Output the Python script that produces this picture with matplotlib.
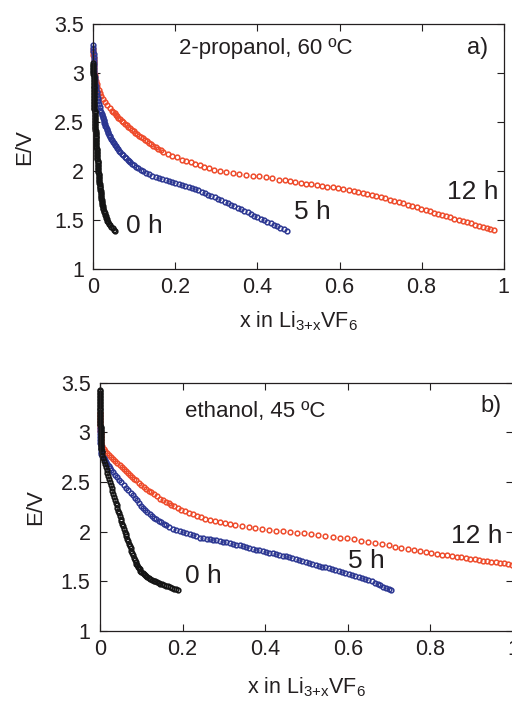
import matplotlib
matplotlib.use('Agg')
import matplotlib.pyplot as plt

plt.rcParams['font.family'] = ['Liberation Sans', 'DejaVu Sans']
plt.rcParams['mathtext.default'] = 'regular'

# (a) 2-propanol, 60 ºC : discharge curves E vs x
x_a_0h = [0.0000, 0.0001, 0.0002, 0.0002, 0.0003, 0.0004, 0.0005, 0.0005, 0.0006, 0.0007,
          0.0008, 0.0008, 0.0009, 0.0010, 0.0011, 0.0011, 0.0012, 0.0013, 0.0014, 0.0014,
          0.0015, 0.0016, 0.0017, 0.0017, 0.0018, 0.0019, 0.0020, 0.0021, 0.0022, 0.0024,
          0.0026, 0.0028, 0.0030, 0.0031, 0.0033, 0.0035, 0.0037, 0.0038, 0.0040, 0.0042,
          0.0044, 0.0045, 0.0047, 0.0049, 0.0051, 0.0053, 0.0055, 0.0056, 0.0058, 0.0060,
          0.0062, 0.0063, 0.0065, 0.0067, 0.0069, 0.0071, 0.0074, 0.0077, 0.0080, 0.0083,
          0.0086, 0.0088, 0.0091, 0.0094, 0.0097, 0.0100, 0.0103, 0.0106, 0.0109, 0.0112,
          0.0115, 0.0118, 0.0121, 0.0123, 0.0126, 0.0129, 0.0132, 0.0135, 0.0138, 0.0142,
          0.0146, 0.0150, 0.0155, 0.0160, 0.0164, 0.0168, 0.0173, 0.0177, 0.0181, 0.0186,
          0.0190, 0.0195, 0.0199, 0.0204, 0.0208, 0.0213, 0.0217, 0.0226, 0.0235, 0.0246,
          0.0258, 0.0270, 0.0281, 0.0293, 0.0304, 0.0316, 0.0327, 0.0339, 0.0350,
          0.0380, 0.0410, 0.0440, 0.0470, 0.0500, 0.0530]
e_a_0h = [3.10, 3.085, 3.07, 3.055, 3.04, 3.025, 3.01, 2.995, 2.98, 2.965,
          2.95, 2.935, 2.92, 2.905, 2.89, 2.875, 2.86, 2.845, 2.83, 2.815,
          2.80, 2.785, 2.77, 2.755, 2.74, 2.725, 2.71, 2.695, 2.68, 2.665,
          2.65, 2.635, 2.62, 2.605, 2.59, 2.575, 2.56, 2.545, 2.53, 2.515,
          2.50, 2.485, 2.47, 2.455, 2.44, 2.425, 2.41, 2.395, 2.38, 2.365,
          2.35, 2.335, 2.32, 2.305, 2.29, 2.275, 2.26, 2.245, 2.23, 2.215,
          2.20, 2.185, 2.17, 2.155, 2.14, 2.125, 2.11, 2.095, 2.08, 2.065,
          2.05, 2.035, 2.02, 2.005, 1.99, 1.975, 1.96, 1.945, 1.93, 1.915,
          1.90, 1.885, 1.87, 1.855, 1.84, 1.825, 1.81, 1.795, 1.78, 1.765,
          1.75, 1.735, 1.72, 1.705, 1.69, 1.675, 1.66, 1.645, 1.63, 1.615,
          1.60, 1.585, 1.57, 1.555, 1.54, 1.525, 1.51, 1.495, 1.48,
          1.465, 1.45, 1.435, 1.42, 1.405, 1.39]

x_a_5h = [0.0000, 0.0002, 0.0004, 0.0006, 0.0009, 0.0011, 0.0015, 0.0018, 0.0022, 0.0025,
          0.0029, 0.0035, 0.0043, 0.0051, 0.0059, 0.0067, 0.0079, 0.0093, 0.0107, 0.0121,
          0.0136, 0.0155, 0.0175, 0.0194, 0.0204, 0.0215, 0.0227, 0.0238, 0.0250, 0.0262,
          0.0273, 0.0285, 0.0296, 0.0310, 0.0325, 0.0340, 0.0355, 0.0370, 0.0385, 0.0400,
          0.0415, 0.0430, 0.0448, 0.0472, 0.0496, 0.0520, 0.0544, 0.0568, 0.0592, 0.0624,
          0.0661, 0.0697, 0.0734, 0.0770, 0.0802, 0.0834, 0.0866, 0.0899, 0.0937, 0.0988,
          0.1039, 0.1090, 0.1153, 0.1216, 0.1279,
          0.136, 0.144, 0.152, 0.160, 0.168, 0.176, 0.184, 0.192, 0.200, 0.208,
          0.216, 0.224, 0.232, 0.240, 0.248, 0.256, 0.264, 0.272, 0.280, 0.288,
          0.296, 0.304, 0.312, 0.320, 0.328, 0.336, 0.344, 0.352, 0.360, 0.368,
          0.376, 0.384, 0.392, 0.400, 0.408, 0.416, 0.424, 0.432, 0.440, 0.448,
          0.456, 0.464, 0.472]
e_a_5h = [3.29, 3.26, 3.23, 3.20, 3.17, 3.14, 3.11, 3.08, 3.05, 3.02,
          2.99, 2.96, 2.93, 2.90, 2.87, 2.84, 2.81, 2.78, 2.75, 2.72,
          2.69, 2.66, 2.63, 2.60, 2.585, 2.57, 2.555, 2.54, 2.525, 2.51,
          2.495, 2.48, 2.465, 2.45, 2.435, 2.42, 2.405, 2.39, 2.375, 2.36,
          2.345, 2.33, 2.315, 2.30, 2.285, 2.27, 2.255, 2.24, 2.225, 2.21,
          2.195, 2.18, 2.165, 2.15, 2.135, 2.12, 2.105, 2.09, 2.075, 2.06,
          2.045, 2.03, 2.015, 2.00, 1.985,
          1.970, 1.956, 1.942, 1.932, 1.921, 1.911, 1.901, 1.890, 1.880, 1.870,
          1.861, 1.851, 1.842, 1.830, 1.818, 1.805, 1.791, 1.777, 1.762, 1.748,
          1.734, 1.719, 1.704, 1.690, 1.676, 1.660, 1.644, 1.628, 1.612, 1.596,
          1.580, 1.563, 1.547, 1.532, 1.517, 1.502, 1.486, 1.471, 1.456, 1.440,
          1.425, 1.409, 1.394]

x_a_12h = [0.0000, 0.0000, 0.0005, 0.0007, 0.0009, 0.0010, 0.0016, 0.0022, 0.0028, 0.0034,
           0.0040, 0.0060, 0.0080, 0.0100, 0.0133, 0.0167, 0.0200, 0.0248, 0.0296, 0.0344,
           0.0400, 0.0460, 0.0490, 0.0520, 0.0550, 0.0580, 0.0613, 0.0653, 0.0692, 0.0732,
           0.0771, 0.0811, 0.0850, 0.0894, 0.0938, 0.0982, 0.1027, 0.1071, 0.1117, 0.1167,
           0.1217, 0.1267, 0.1317, 0.1367, 0.1417, 0.1467, 0.1520, 0.1580, 0.1640, 0.1700,
           0.181, 0.192, 0.203, 0.215, 0.226, 0.237, 0.248, 0.259, 0.270, 0.282,
           0.294, 0.308, 0.324, 0.340, 0.356, 0.372, 0.388, 0.404, 0.420, 0.436,
           0.452, 0.466, 0.479, 0.492, 0.505, 0.518, 0.531, 0.544, 0.557, 0.570,
           0.583, 0.596, 0.609, 0.622, 0.635, 0.646, 0.657, 0.668, 0.679, 0.690,
           0.700, 0.711, 0.722, 0.733, 0.744, 0.755, 0.766, 0.777, 0.788, 0.799,
           0.810, 0.820, 0.830, 0.840, 0.850, 0.860, 0.870, 0.880, 0.890, 0.900,
           0.910, 0.920, 0.930, 0.940, 0.950, 0.959, 0.967, 0.976]
e_a_12h = [3.25, 3.22, 3.19, 3.16, 3.13, 3.10, 3.07, 3.04, 3.01, 2.98,
           2.95, 2.92, 2.89, 2.86, 2.83, 2.80, 2.77, 2.74, 2.71, 2.68,
           2.65, 2.62, 2.605, 2.59, 2.575, 2.56, 2.545, 2.53, 2.515, 2.50,
           2.485, 2.47, 2.455, 2.44, 2.425, 2.41, 2.395, 2.38, 2.365, 2.35,
           2.335, 2.32, 2.305, 2.29, 2.275, 2.26, 2.245, 2.23, 2.215, 2.20,
           2.180, 2.161, 2.141, 2.120, 2.105, 2.091, 2.076, 2.061, 2.048, 2.033,
           2.018, 2.005, 1.996, 1.986, 1.976, 1.967, 1.957, 1.948, 1.937, 1.927,
           1.916, 1.907, 1.899, 1.890, 1.882, 1.874, 1.866, 1.859, 1.851, 1.843,
           1.835, 1.827, 1.819, 1.810, 1.800, 1.793, 1.782, 1.770, 1.758, 1.746,
           1.735, 1.723, 1.711, 1.699, 1.687, 1.674, 1.659, 1.645, 1.631, 1.616,
           1.603, 1.590, 1.578, 1.565, 1.553, 1.541, 1.529, 1.517, 1.504, 1.492,
           1.480, 1.468, 1.455, 1.443, 1.431, 1.420, 1.410, 1.400]

# (b) ethanol, 45 ºC
x_b_0h = [0.0000, 0.0000, 0.0000, 0.0000, 0.0000, 0.0001, 0.0002, 0.0002, 0.0003, 0.0003,
          0.0004, 0.0004, 0.0005, 0.0005, 0.0006, 0.0006, 0.0007, 0.0007, 0.0008, 0.0008,
          0.0009, 0.0009, 0.0010, 0.0011, 0.0012, 0.0013, 0.0014, 0.0015, 0.0016, 0.0017,
          0.0018, 0.0019, 0.0021, 0.0022, 0.0024, 0.0026, 0.0028, 0.0030, 0.0032, 0.0034,
          0.0036, 0.0038, 0.0040,
          0.006, 0.008, 0.010, 0.012, 0.014, 0.016, 0.018, 0.020, 0.022, 0.024,
          0.026, 0.028, 0.030, 0.032, 0.034, 0.036, 0.038, 0.040, 0.042, 0.044,
          0.046, 0.048, 0.050, 0.052, 0.054, 0.056, 0.058, 0.060, 0.062, 0.064,
          0.066, 0.068, 0.070, 0.072, 0.074, 0.076, 0.078, 0.080, 0.082, 0.084,
          0.086, 0.088, 0.090, 0.092, 0.094, 0.096, 0.098, 0.100,
          0.103, 0.106, 0.109, 0.112, 0.115, 0.118, 0.122, 0.126, 0.130, 0.134,
          0.138, 0.142, 0.146, 0.150, 0.155, 0.160, 0.165, 0.170, 0.175, 0.180,
          0.185, 0.190]
e_b_0h = [3.43, 3.415, 3.40, 3.385, 3.37, 3.355, 3.34, 3.325, 3.31, 3.295,
          3.28, 3.265, 3.25, 3.235, 3.22, 3.205, 3.19, 3.175, 3.16, 3.145,
          3.13, 3.115, 3.10, 3.085, 3.07, 3.055, 3.04, 3.025, 3.01, 2.995,
          2.98, 2.965, 2.95, 2.935, 2.92, 2.905, 2.89, 2.875, 2.86, 2.845,
          2.83, 2.815, 2.80,
          2.770, 2.739, 2.709, 2.679, 2.648, 2.618, 2.588, 2.557, 2.527, 2.497,
          2.466, 2.436, 2.406, 2.375, 2.345, 2.317, 2.290, 2.264, 2.238, 2.211,
          2.185, 2.158, 2.132, 2.106, 2.079, 2.053, 2.026, 2.000, 1.976, 1.952,
          1.928, 1.904, 1.880, 1.856, 1.832, 1.808, 1.784, 1.760, 1.736, 1.712,
          1.693, 1.678, 1.664, 1.649, 1.634, 1.620, 1.605, 1.590,
          1.580, 1.570, 1.560, 1.550, 1.540, 1.530, 1.522, 1.515, 1.507, 1.500,
          1.492, 1.485, 1.477, 1.470, 1.463, 1.455, 1.448, 1.440, 1.433, 1.425,
          1.418, 1.410]

x_b_5h = [0.0000, 0.0001, 0.0003, 0.0005, 0.0008, 0.0011, 0.0015, 0.0020, 0.0026, 0.0030,
          0.006, 0.009, 0.012, 0.015, 0.018, 0.021, 0.024, 0.027,
          0.032, 0.037, 0.042, 0.047, 0.052, 0.057, 0.064,
          0.069, 0.074, 0.079, 0.084, 0.089, 0.094, 0.100,
          0.105, 0.110, 0.115, 0.120, 0.125, 0.130,
          0.136, 0.142, 0.148, 0.154, 0.160, 0.168, 0.177,
          0.185, 0.193, 0.201, 0.209, 0.217, 0.225, 0.233, 0.242,
          0.250, 0.258, 0.266, 0.274, 0.282, 0.290, 0.298, 0.306,
          0.314, 0.322, 0.330, 0.338, 0.346, 0.354, 0.362, 0.370, 0.378,
          0.386, 0.394, 0.402, 0.410, 0.418, 0.426, 0.434, 0.442, 0.450, 0.458,
          0.466, 0.474, 0.482, 0.490, 0.498, 0.506, 0.514, 0.522, 0.530, 0.538,
          0.546, 0.554, 0.562, 0.570, 0.578,
          0.586, 0.594, 0.602, 0.610, 0.618, 0.626, 0.634, 0.642, 0.650, 0.658,
          0.665, 0.672, 0.679, 0.686, 0.693, 0.700, 0.705]
e_b_5h = [3.04, 3.01, 2.98, 2.95, 2.92, 2.89, 2.86, 2.83, 2.80, 2.78,
          2.760, 2.740, 2.720, 2.700, 2.680, 2.660, 2.640, 2.620,
          2.596, 2.571, 2.547, 2.523, 2.498, 2.474, 2.440,
          2.415, 2.390, 2.365, 2.340, 2.315, 2.290, 2.260,
          2.240, 2.220, 2.200, 2.180, 2.160, 2.140,
          2.124, 2.109, 2.094, 2.080, 2.067, 2.050, 2.030,
          2.019, 2.008, 1.997, 1.986, 1.975, 1.964, 1.952, 1.940,
          1.934, 1.928, 1.922, 1.916, 1.911, 1.905, 1.899, 1.893,
          1.886, 1.878, 1.869, 1.861, 1.853, 1.845, 1.836, 1.828, 1.820,
          1.812, 1.804, 1.796, 1.789, 1.781, 1.773, 1.765, 1.758, 1.750, 1.742,
          1.733, 1.724, 1.714, 1.705, 1.696, 1.686, 1.677, 1.668, 1.658, 1.649,
          1.640, 1.630, 1.621, 1.612, 1.602,
          1.592, 1.582, 1.572, 1.562, 1.551, 1.541, 1.531, 1.520, 1.510, 1.500,
          1.487, 1.473, 1.460, 1.446, 1.433, 1.420, 1.410]

x_b_12h = [0.0000, 0.0000, 0.0002, 0.0004, 0.0006, 0.0008, 0.0011, 0.0014, 0.0018, 0.0023,
           0.0030, 0.0056, 0.0094, 0.0120,
           0.017, 0.022, 0.027, 0.032, 0.037, 0.042, 0.048,
           0.053, 0.058, 0.063, 0.068, 0.073, 0.078, 0.083, 0.088, 0.094, 0.100,
           0.106, 0.112, 0.118, 0.124, 0.130, 0.137, 0.145,
           0.152, 0.159, 0.166, 0.173, 0.180, 0.188, 0.196,
           0.205, 0.215, 0.225, 0.235, 0.245, 0.255,
           0.266, 0.278, 0.290, 0.302, 0.314,
           0.328, 0.344, 0.360, 0.376, 0.393, 0.410, 0.427, 0.444,
           0.461, 0.478, 0.495, 0.512, 0.529, 0.546, 0.563, 0.580, 0.597,
           0.614, 0.631, 0.648, 0.665, 0.682, 0.699,
           0.715, 0.730, 0.745, 0.760, 0.775, 0.789, 0.802, 0.815, 0.828, 0.840,
           0.852, 0.864, 0.875, 0.886, 0.897, 0.908, 0.918, 0.928, 0.938, 0.948,
           0.958, 0.968, 0.978, 0.988, 0.998]
e_b_12h = [3.19, 3.16, 3.13, 3.10, 3.07, 3.04, 3.01, 2.98, 2.95, 2.92,
           2.89, 2.86, 2.83, 2.81,
           2.790, 2.771, 2.752, 2.732, 2.713, 2.693, 2.670,
           2.651, 2.632, 2.612, 2.593, 2.574, 2.555, 2.535, 2.516, 2.493, 2.470,
           2.451, 2.433, 2.414, 2.395, 2.377, 2.355, 2.330,
           2.315, 2.299, 2.284, 2.269, 2.254, 2.236, 2.219,
           2.203, 2.188, 2.173, 2.158, 2.143, 2.128,
           2.116, 2.107, 2.098, 2.089, 2.080,
           2.069, 2.057, 2.045, 2.033, 2.024, 2.017, 2.010, 2.003,
           1.996, 1.989, 1.982, 1.974, 1.966, 1.957, 1.949, 1.940, 1.932,
           1.921, 1.910, 1.899, 1.888, 1.875, 1.863,
           1.850, 1.839, 1.827, 1.816, 1.804, 1.794, 1.786, 1.778, 1.769, 1.761,
           1.754, 1.746, 1.740, 1.733, 1.727, 1.720, 1.714, 1.708, 1.702, 1.696,
           1.691, 1.685, 1.680, 1.674, 1.669]

x_ticks = [0, 0.2, 0.4, 0.6, 0.8, 1]
x_ticklabels = ['0', '0.2', '0.4', '0.6', '0.8', '1']
e_ticks = [1, 1.5, 2, 2.5, 3, 3.5]
e_ticklabels = ['1', '1.5', '2', '2.5', '3', '3.5']

red = '#ee4b2b'
blue = '#2c3792'
black = '#141414'
ink = '#231f20'

fig = plt.figure(figsize=(5.12, 7.08), dpi=100)
ax1 = fig.add_axes([0.1822, 0.6196, 0.8016, 0.3461])
ax2 = fig.add_axes([0.1953, 0.1088, 0.8066, 0.3507])


def curve(ax, x, e, color):
    ax.plot(x, e, 'o', mfc='none', mec=color, ms=3.4, mew=1.1, clip_on=False)


def frame(ax, ylab_x, xlab_y):
    ax.set_xlim(0, 1)
    ax.set_ylim(1, 3.5)
    ax.set_xticks(x_ticks)
    ax.set_xticklabels(x_ticklabels)
    ax.set_yticks(e_ticks)
    ax.set_yticklabels(e_ticklabels)
    ax.tick_params(direction='in', length=5, width=0.8, top=True, right=True,
                   labelsize=15.5, colors=ink)
    ax.tick_params(axis='x', pad=5.5)
    ax.tick_params(axis='y', pad=6.8)
    for s in ax.spines.values():
        s.set_linewidth(0.9)
        s.set_color(ink)
    ax.set_ylabel('E/V', fontsize=16, color=ink)
    ax.yaxis.set_label_coords(ylab_x, 0.5)
    ax.set_xlabel('x in Li$_{3{+}x}$VF$_6$', fontsize=15.5, color=ink, va='baseline')
    ax.xaxis.set_label_coords(0.5, xlab_y)


# panel a
curve(ax1, x_a_12h, e_a_12h, red)
curve(ax1, x_a_5h, e_a_5h, blue)
curve(ax1, x_a_0h, e_a_0h, black)
frame(ax1, -0.142, -0.237)
ax1.text(0.42, 3.255, '2-propanol, 60 ºC', fontsize=16, ha='center', va='center', color=ink)
ax1.text(0.936, 3.255, 'a)', fontsize=17, ha='center', va='center', color=ink)
ax1.text(0.08, 1.447, '0 h', fontsize=19, ha='left', va='center', color=ink)
ax1.text(0.49, 1.585, '5 h', fontsize=19, ha='left', va='center', color=ink)
ax1.text(0.862, 1.784, '12 h', fontsize=19, ha='left', va='center', color=ink)

# panel b
curve(ax2, x_b_12h, e_b_12h, red)
curve(ax2, x_b_5h, e_b_5h, blue)
curve(ax2, x_b_0h, e_b_0h, black)
frame(ax2, -0.130, -0.25)
ax2.text(0.3765, 3.21, 'ethanol, 45 ºC', fontsize=16, ha='center', va='center', color=ink)
ax2.text(0.947, 3.266, 'b)', fontsize=17, ha='center', va='center', color=ink)
ax2.text(0.206, 1.557, '0 h', fontsize=19, ha='left', va='center', color=ink)
ax2.text(0.60, 1.708, '5 h', fontsize=19, ha='left', va='center', color=ink)
ax2.text(0.85, 1.96, '12 h', fontsize=19, ha='left', va='center', color=ink)

fig.savefig('out.png', dpi=100)
